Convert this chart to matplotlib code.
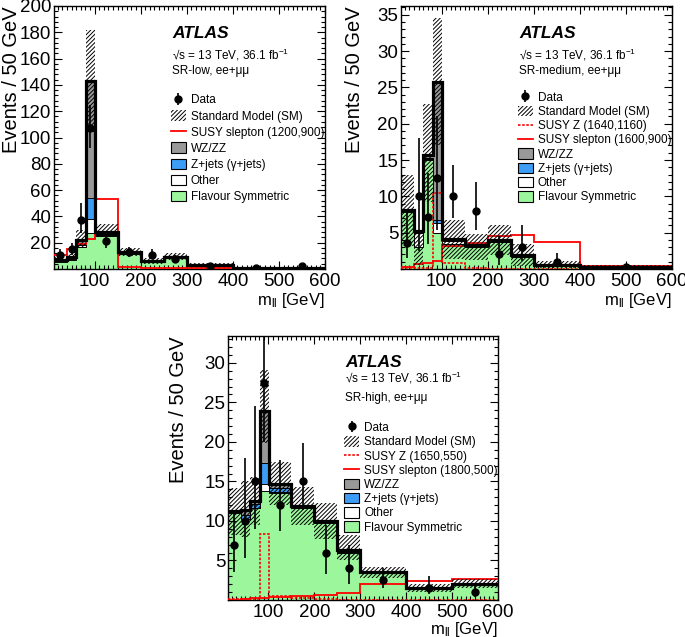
import numpy as np
import matplotlib
matplotlib.use("Agg")
from matplotlib import pyplot as plt
from matplotlib.patches import Patch
from matplotlib.lines import Line2D
from matplotlib.ticker import MultipleLocator, AutoMinorLocator

plt.rcParams['font.family'] = ['Liberation Sans', 'DejaVu Sans']
plt.rcParams['mathtext.fontset'] = 'custom'
plt.rcParams['mathtext.rm'] = 'Liberation Sans'
plt.rcParams['mathtext.it'] = 'Liberation Sans:italic'
plt.rcParams['mathtext.bf'] = 'Liberation Sans:bold'
plt.rcParams['hatch.linewidth'] = 0.7

FS_COL = '#9cf79c'
Z_COL = '#3d9cf5'
WZ_COL = '#999999'
HATCH = '////////'

# ---- SR-low ----
low_edges = [12, 40, 60, 81, 101, 150, 200, 250, 300, 400, 500, 600]
low_fs = [5.5, 7.0, 17.0, 27.0, 25.0, 11.5, 5.0, 8.0, 2.6, 0.4, 0.3]
low_other = [0.5, 0.5, 1.0, 11.0, 1.0, 0.5, 0.3, 0.3, 0.2, 0.1, 0.05]
low_zjets = [0.3, 0.5, 1.0, 16.0, 0.5, 0.2, 0.2, 0.2, 0.1, 0.05, 0.05]
low_wz = [0.7, 1.0, 3.0, 89.0, 1.9, 0.8, 0.5, 0.5, 0.4, 0.15, 0.1]
low_sm_up = [2.0, 2.5, 8.0, 39.0, 6.0, 3.0, 2.5, 3.0, 1.2, 0.5, 0.5]
low_sm_down = [2.0, 2.5, 5.0, 39.0, 4.0, 3.0, 2.0, 2.0, 1.0, 0.4, 0.4]
low_data = [10.5, 15.0, 37.5, 107.5, 21.0, 13.0, 11.0, 7.5, 2.0, 1.0, 2.0]
low_data_lo = [6.5, 10.5, 27.0, 92.0, 16.0, 9.5, 7.5, 5.0, 1.0, 0.3, 1.0]
low_data_hi = [15.0, 20.0, 50.0, 125.0, 27.0, 17.0, 15.0, 11.0, 3.5, 2.3, 3.5]
low_slep = [11.0, 15.0, 19.0, 22.5, 53.0, 1.5, 1.0, 0.8, 0.5, 0.2, 0.2]

# ---- SR-medium ----
med_edges = [12, 40, 60, 81, 101, 150, 200, 250, 300, 400, 600]
med_fs = [7.9, 3.0, 15.0, 4.9, 3.5, 3.0, 3.7, 1.7, 0.5, 0.25]
med_other = [0.1, 2.0, 0.2, 1.5, 0.3, 0.2, 0.2, 0.15, 0.05, 0.03]
med_zjets = [0.0, 0.0, 0.1, 0.3, 0.05, 0.0, 0.0, 0.0, 0.0, 0.0]
med_wz = [0.1, 0.2, 0.4, 19.1, 0.25, 0.1, 0.1, 0.1, 0.05, 0.02]
med_sm_up = [4.9, 0.2, 7.0, 8.7, 2.7, 1.5, 2.1, 1.5, 0.5, 0.2]
med_sm_down = [4.9, 4.7, 6.5, 8.7, 2.7, 2.0, 2.1, 1.5, 0.5, 0.2]
med_data = [3.6, 10.0, 7.1, 12.5, 10.0, 8.0, 2.0, 3.0, 1.0, 0.25]
med_data_lo = [1.5, 2.5, 3.5, 5.4, 7.0, 5.3, 0.6, 1.1, 0.5, 0.1]
med_data_hi = [7.8, 18.0, 13.2, 21.0, 14.3, 12.0, 4.5, 6.0, 2.2, 0.6]
med_slep = [0.3, 0.7, 0.8, 1.1, 3.2, 3.6, 4.5, 4.7, 3.7, 0.4]
med_susyz = [0.1, 0.1, 0.1, 10.5, 0.8, 0.1, 0.05, 0.05, 0.02, 0.02]

# ---- SR-high ----
high_edges = [12, 40, 60, 81, 101, 150, 200, 250, 300, 400, 500, 600]
high_fs = [11.0, 10.2, 11.7, 13.8, 13.5, 11.6, 9.8, 6.0, 3.4, 1.4, 1.9]
high_other = [0.1, 0.0, 0.0, 0.9, 0.2, 0.1, 0.1, 0.1, 0.05, 0.05, 0.05]
high_zjets = [0.05, 0.5, 0.4, 2.6, 0.5, 0.1, 0.05, 0.1, 0.0, 0.0, 0.0]
high_wz = [0.05, 0.7, 0.4, 6.6, 0.5, 0.1, 0.05, 0.1, 0.05, 0.05, 0.05]
high_sm_up = [3.0, 3.6, 3.0, 5.2, 2.7, 2.4, 2.3, 1.9, 0.7, 0.5, 0.7]
high_sm_down = [3.0, 3.4, 3.0, 4.1, 2.7, 2.4, 2.3, 1.3, 0.7, 0.5, 0.5]
high_data = [7.0, 10.0, 15.0, 27.5, 12.0, 15.0, 6.0, 4.0, 2.5, 1.5, 1.0]
high_data_lo = [3.5, 5.3, 9.0, 20.0, 8.7, 11.4, 3.3, 2.0, 1.5, 0.7, 0.4]
high_data_hi = [11.0, 18.0, 24.5, 36.0, 17.7, 19.8, 9.5, 7.0, 4.0, 3.0, 2.2]
high_slep = [0.05, 0.1, 0.2, 0.2, 0.4, 0.5, 0.6, 0.9, 2.0, 2.4, 2.6]
high_susyz = [0.1, 0.1, 0.1, 8.4, 0.5, 0.2, 0.1, 0.05, 0.05, 0.05, 0.05]


def draw_panel(ax, edges, fs, other, zjets, wz, sm_up, sm_down, data, data_lo, data_hi,
               slep, slep_label, susyz, susyz_label, ymax, ystep, region,
               text_y, leg_top, leg_space, ylab_x, xlab_y):
    edges = np.array(edges, dtype=float)
    fs = np.array(fs)
    c1 = fs + np.array(other)
    c2 = c1 + np.array(zjets)
    total = c2 + np.array(wz)

    # stacked backgrounds
    ax.stairs(fs, edges, baseline=0, fill=True, color=FS_COL, lw=0, zorder=1)
    ax.stairs(c1, edges, baseline=fs, fill=True, color='white', lw=0, zorder=1)
    ax.stairs(c2, edges, baseline=c1, fill=True, color=Z_COL, lw=0, zorder=1)
    ax.stairs(total, edges, baseline=c2, fill=True, color=WZ_COL, lw=0, zorder=1)
    for lev in (fs, c1, c2):
        ax.stairs(lev, edges, baseline=None, color='black', lw=0.7, zorder=2)

    # signals
    if susyz is not None:
        ax.stairs(susyz, edges, baseline=None, color='red', lw=1.2,
                  linestyle=(0, (1.5, 1.0)), zorder=3)
    ax.stairs(slep, edges, baseline=None, color='red', lw=1.3, zorder=3)

    # SM uncertainty band
    ax.stairs(total + np.array(sm_up), edges, baseline=total - np.array(sm_down),
              fill=True, facecolor='none', edgecolor='black', hatch=HATCH,
              lw=0, zorder=3.5)
    ax.stairs(total, edges, baseline=None, color='black', lw=2.3, zorder=4)

    centers = 0.5 * (edges[:-1] + edges[1:])
    data = np.array(data)
    yerr = [data - np.array(data_lo), np.array(data_hi) - data]
    dat = ax.errorbar(centers, data, yerr=yerr, fmt='o', color='black', ms=5,
                      elinewidth=1.2, capsize=0, zorder=5)

    ax.set_xlim(edges[0], 600)
    ax.set_ylim(0, ymax)
    ax.xaxis.set_major_locator(MultipleLocator(100))
    ax.xaxis.set_minor_locator(MultipleLocator(10))
    ax.set_yticks(np.arange(ystep, ymax + 0.01, ystep))
    ax.yaxis.set_minor_locator(AutoMinorLocator(5))
    ax.tick_params(which='both', direction='in', top=True, right=True, labelsize=13.5)
    ax.tick_params(which='major', length=6, width=0.8)
    ax.tick_params(which='minor', length=3, width=0.8)
    ax.tick_params(axis='y', pad=2)
    ax.tick_params(axis='x', pad=3)
    for s in ax.spines.values():
        s.set_linewidth(1.0)

    ax.set_ylabel("Events / 50 GeV", fontsize=14.5, loc='top')
    ax.yaxis.set_label_coords(ylab_x, 1.0)
    ax.set_xlabel(r"m$_{\mathregular{ll}}$ [GeV]", fontsize=12, loc='right')
    ax.xaxis.set_label_coords(1.0, xlab_y)

    tx = 0.435
    ax.text(tx, text_y[0], "ATLAS", transform=ax.transAxes, fontsize=12.5,
            fontweight='bold', fontstyle='italic', va='center')
    ax.text(tx, text_y[1], "√s = 13 TeV, 36.1 fb$^{-1}$", transform=ax.transAxes,
            fontsize=8.5, va='center')
    ax.text(tx, text_y[2], region + ", ee+μμ", transform=ax.transAxes,
            fontsize=8.5, va='center')

    handles = [dat, Patch(facecolor='white', edgecolor='black', hatch=HATCH, lw=0)]
    labels = ["Data", "Standard Model (SM)"]
    if susyz is not None:
        handles.append(Line2D([], [], color='red', lw=1.2, linestyle=(0, (1.5, 1.0))))
        labels.append(susyz_label)
    handles.append(Line2D([], [], color='red', lw=1.3))
    labels.append(slep_label)
    handles += [Patch(facecolor=WZ_COL, edgecolor='black', lw=0.8),
                Patch(facecolor=Z_COL, edgecolor='black', lw=0.8),
                Patch(facecolor='white', edgecolor='black', lw=0.8),
                Patch(facecolor=FS_COL, edgecolor='black', lw=0.8)]
    labels += ["WZ/ZZ", "Z+jets (γ+jets)", "Other", "Flavour Symmetric"]
    ax.legend(handles, labels, loc='upper left', bbox_to_anchor=(tx - 0.005, leg_top),
              frameon=False, fontsize=8.5, handlelength=1.3, handleheight=1.0,
              handletextpad=0.4, labelspacing=leg_space, borderpad=0, borderaxespad=0)


fig = plt.figure(figsize=(6.85, 6.37), dpi=100)
ax1 = fig.add_axes([54 / 685, 1 - 269 / 637, 271 / 685, 263 / 637])
ax2 = fig.add_axes([401 / 685, 1 - 269 / 637, 271 / 685, 263 / 637])
ax3 = fig.add_axes([228 / 685, 1 - 600 / 637, 270 / 685, 264 / 637])

draw_panel(ax1, low_edges, low_fs, low_other, low_zjets, low_wz, low_sm_up, low_sm_down,
           low_data, low_data_lo, low_data_hi, low_slep, "SUSY slepton (1200,900)",
           None, None, 200, 20, "SR-low", (0.897, 0.815, 0.752), 0.665, 0.32,
           -0.12, -0.085)
draw_panel(ax2, med_edges, med_fs, med_other, med_zjets, med_wz, med_sm_up, med_sm_down,
           med_data, med_data_lo, med_data_hi, med_slep, "SUSY slepton (1600,900)",
           med_susyz, "SUSY Z (1640,1160)", 36.2, 5, "SR-medium",
           (0.897, 0.815, 0.752), 0.675, 0.16, -0.135, -0.085)
draw_panel(ax3, high_edges, high_fs, high_other, high_zjets, high_wz, high_sm_up, high_sm_down,
           high_data, high_data_lo, high_data_hi, high_slep, "SUSY slepton (1800,500)",
           high_susyz, "SUSY Z (1650,550)", 33.4, 5, "SR-high",
           (0.898, 0.84, 0.765), 0.675, 0.16, -0.148, -0.074)

fig.savefig("out.png", dpi=100)
